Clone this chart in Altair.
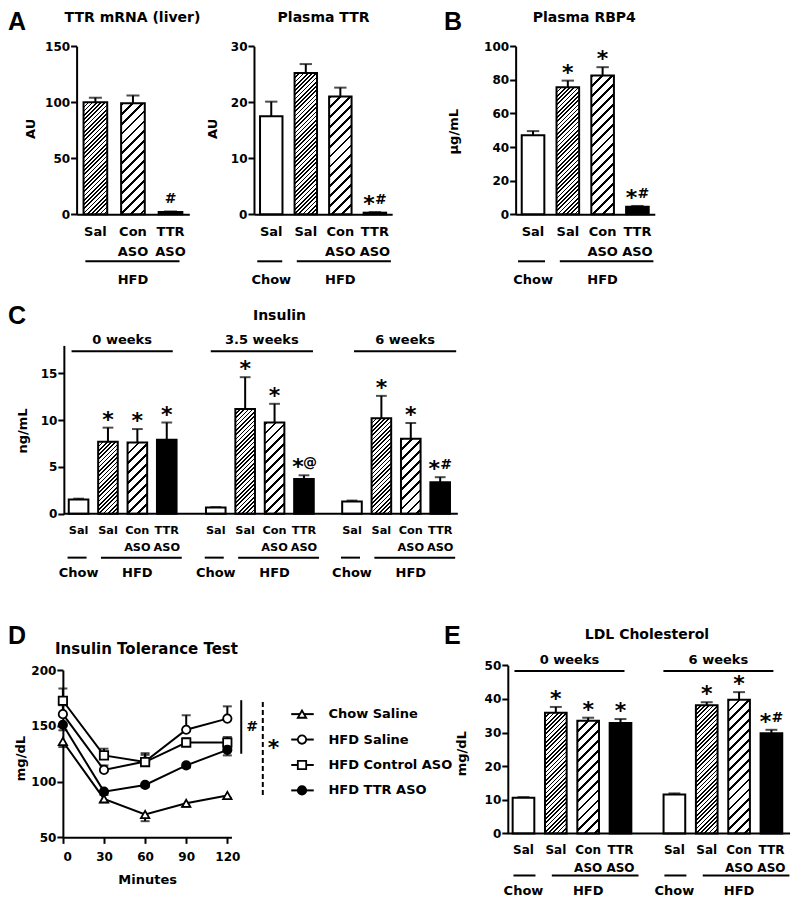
import math
import altair as alt
import pandas as pd

FONT = "DejaVu Sans"
LETTER_FONT = "Liberation Sans"
CW, CH = 783, 892
SX, SY, Y0 = 0.98, 0.978, 0.0


def PX(v):
    return v * SX


def PY(v):
    return (v - Y0) * SY


# ---------------- data ----------------
TREAT = ["Chow|Sal", "HFD|Sal", "HFD|Con ASO", "HFD|TTR ASO"]

A1_keys = ["HFD|Sal", "HFD|Con ASO", "HFD|TTR ASO"]
A1_vals = [100, 99, 2]
A1_sem = [4, 7, 0.6]
A1_note = ["", "", "#"]

A2_vals = [17.5, 25.2, 21.0, 0.3]
A2_sem = [2.6, 1.6, 1.6, 0.1]
A2_note = ["", "", "", "*#"]

B_vals = [47, 75.5, 82.5, 4.5]
B_sem = [2.5, 4.0, 5.0, 0.5]
B_note = ["", "*", "*", "*#"]

C_weeks = ["0 weeks", "3.5 weeks", "6 weeks"]
C_vals = [[1.5, 7.7, 7.6, 7.9], [0.65, 11.2, 9.75, 3.7], [1.3, 10.2, 8.0, 3.35]]
C_sem = [[0.1, 1.5, 1.45, 1.85], [0.05, 3.4, 2.0, 0.4], [0.1, 2.4, 1.7, 0.55]]
C_note = [["", "*", "*", "*"], ["", "*", "*", "*@"], ["", "*", "*", "*#"]]

E_weeks = ["0 weeks", "6 weeks"]
E_vals = [[10.6, 35.9, 33.5, 32.8], [11.6, 38.1, 39.7, 29.8]]
E_sem = [[0.2, 1.7, 0.9, 1.2], [0.3, 0.9, 2.3, 1.0]]
E_note = [["", "*", "*", "*"], ["", "*", "*", "*#"]]

D_series = ["Chow Saline", "HFD Saline", "HFD Control ASO", "HFD TTR ASO"]
D_minutes = [0, 30, 60, 90, 120]
D_chow = [136, 84.5, 70.5, 80.5, 87.5]
D_hfd_sal = [160.5, 110.5, 118, 146.5, 156.5]
D_hfd_con = [172.5, 123.5, 117.5, 135, 135]
D_hfd_ttr = [151, 91, 97, 114.5, 128.5]
D_chow_sem = [5, 3, 6, 3, 2]
D_hfd_sal_sem = [8, 4, 6, 13, 11]
D_hfd_con_sem = [11, 6, 8, 4, 5]
D_hfd_ttr_sem = [5, 3, 2, 2, 5]
D_err_dir = [-1, 1, 1, -1]
D_shapes = ["triangle-up", "circle", "square", "circle"]
D_fills = ["white", "white", "white", "black"]

SIG_sym = ["#", "*"]
SIG_low = [125, 88]
SIG_high = [173, 174]

# ---------------- helpers ----------------
AX = dict(domainColor="black", domainWidth=2, tickColor="black", tickWidth=2,
          labelColor="black", labelFont=FONT, labelFontWeight="bold",
          titleColor="black", titleFont=FONT, titleFontWeight="bold", grid=False)
TXT = dict(font=FONT, fontWeight="bold", color="black")
ONE = pd.DataFrame({"o": [0]})


def y_axis(ax_x, values, title, title_right, title_cy):
    return alt.Axis(orient="left", offset=-PX(ax_x), values=values, tickSize=6,
                    labelPadding=1, labelFontSize=12, title=title, titleFontSize=13,
                    titleX=PX(title_right) - PX(ax_x), titleY=PY(title_cy), titleAngle=270,
                    titleAlign="center", titleBaseline="bottom", **AX)


def x_axis_cat(ax_y, line_h, size=13, domain=True):
    return alt.Axis(orient="bottom", offset=PY(ax_y) - CH, domain=domain, ticks=False,
                    tickSize=0, labelPadding=11, labelFontSize=size, labelLineHeight=line_h,
                    labelAngle=0, labelAlign="center", labelBaseline="top",
                    labelExpr="split(peek(split(datum.label, '|')), ' ')", title=None, **AX)


def hatch(w, h, period, lw):
    s2 = math.sqrt(2.0)
    L = w + h
    c = (1.0 / h + 1.0 / w) / (1.0 / h ** 2 + 1.0 / w ** 2)
    pt, lt = period * s2 / L, lw * s2 / L
    stops, pos = [], 0.0
    while pos < 1.0:
        a, b, e = pos, min(pos + lt, 1.0), min(pos + pt, 1.0)
        stops += [{"offset": round(a, 5), "color": "black"},
                  {"offset": round(b, 5), "color": "black"},
                  {"offset": round(b, 5), "color": "white"},
                  {"offset": round(e, 5), "color": "white"}]
        pos += pt
    return {"gradient": "linear", "x1": 0, "y1": 0,
            "x2": round(c / h, 5), "y2": round(c / w, 5), "stops": stops}


def kind_of(key):
    diet, treat = key.split("|")[-2:]
    if diet == "Chow":
        return "open"
    if treat == "Sal":
        return "dense"
    if treat.startswith("Con"):
        return "sparse"
    return "solid"


def yscale(domain, bottom, top):
    y0, y1 = PY(bottom), PY(top)
    return alt.Scale(domain=domain, range=[y0, y1], nice=False, zero=False), \
        (y0 - y1) / (domain[1] - domain[0])


def bar_group(keys, vals, sems, notes, x_rng, pad, ysc, ppu, yax, xax):
    df = pd.DataFrame({"key": keys, "val": vals, "sem": sems, "note": notes})
    df["top"] = df["val"] + df["sem"]
    df["kind"] = [kind_of(k) for k in keys]
    r0, r1 = PX(x_rng[0]), PX(x_rng[1])
    xs = alt.Scale(type="band", domain=keys, range=[r0, r1],
                   paddingInner=pad, paddingOuter=pad / 2)
    step = (r1 - r0) / len(keys)
    bw = step * (1 - pad)
    X = alt.X("key:N", scale=xs)
    Yv = alt.Y("val:Q", scale=ysc)
    Yt = alt.Y("top:Q", scale=ysc)
    yk = {"axis": yax} if yax is not None else {}
    base = alt.Chart(df)
    layers = [
        base.mark_rule(color="black", strokeWidth=2).encode(
            x=alt.X("key:N", scale=xs, axis=xax),
            y=alt.Y("val:Q", scale=ysc, **yk), y2="top:Q"),
        base.mark_tick(color="black", thickness=2, size=bw * 0.55, orient="horizontal").encode(
            x=X, y=Yt),
        base.transform_filter("datum.kind == 'open'").mark_bar(
            fill="white", stroke="black", strokeWidth=2).encode(x=X, y=Yv),
        base.transform_filter("datum.kind == 'solid'").mark_bar(
            fill="black", stroke="black", strokeWidth=2).encode(x=X, y=Yv),
    ]
    for k, v, kind in zip(keys, vals, df["kind"]):
        if kind in ("dense", "sparse"):
            period, lw = (3.0, 1.2) if kind == "dense" else (7.0, 2.0)
            layers.append(base.transform_filter(alt.datum.key == k).mark_bar(
                fill=hatch(bw, v * ppu, period, lw), stroke="black", strokeWidth=2
            ).encode(x=X, y=Yv))
    layers += [
        base.transform_filter("datum.note == '*'").mark_text(
            text="*", fontSize=22, baseline="alphabetic", dy=-1, **TXT).encode(x=X, y=Yt),
        base.transform_filter("length(datum.note) > 1").mark_text(
            text="*", fontSize=22, baseline="alphabetic", dx=-6, dy=-1, **TXT).encode(x=X, y=Yt),
        base.transform_filter("length(datum.note) > 1").transform_calculate(
            sym="substring(datum.note, 1)").mark_text(
            fontSize=14, baseline="alphabetic", dx=6, dy=-8, **TXT).encode(x=X, y=Yt, text="sym:N"),
        base.transform_filter("datum.note != '*' && length(datum.note) == 1").mark_text(
            fontSize=14, baseline="alphabetic", dy=-8, **TXT).encode(x=X, y=Yt, text="note:N"),
    ]
    return layers, xs, step


def diet_labels(keys, xs, line_y, text_y, offs):
    groups = []
    for k in keys:
        diet = k.split("|")[-2]
        if groups and groups[-1][0] == diet:
            groups[-1][1].append(k)
        else:
            groups.append((diet, [k]))
    layers = []
    for diet, ks in groups:
        gdf = pd.DataFrame({"label": [diet], "first": [ks[0]], "last": [ks[-1]],
                            "mid": [ks[len(ks) // 2]]})
        xo, x2o = offs[diet]
        c = alt.Chart(gdf)
        layers.append(c.mark_rule(color="black", strokeWidth=2, xOffset=xo, x2Offset=x2o).encode(
            x=alt.X("first:N", scale=xs), x2="last:N", y=alt.value(PY(line_y))))
        layers.append(c.mark_text(fontSize=13, baseline="alphabetic", **TXT).encode(
            x=alt.X("mid:N", scale=xs), y=alt.value(PY(text_y)), text="label:N"))
    return layers


def week_label(keys, xs, week, step, line_y, text_y, off):
    wdf = pd.DataFrame({"label": [week], "first": [keys[0]], "last": [keys[-1]],
                        "second": [keys[1]]})
    c = alt.Chart(wdf)
    return [
        c.mark_rule(color="black", strokeWidth=2, xOffset=off[0], x2Offset=off[1]).encode(
            x=alt.X("first:N", scale=xs), x2="last:N", y=alt.value(PY(line_y))),
        c.mark_text(fontSize=13, baseline="alphabetic", dx=step / 2 + (off[0] + off[1]) / 2,
                    **TXT).encode(x=alt.X("second:N", scale=xs),
                                  y=alt.value(PY(text_y)), text="label:N"),
    ]


def label(text, x, y, size=14, align="center", font=FONT):
    return alt.Chart(ONE).mark_text(text=text, font=font, fontSize=size, fontWeight="bold",
                                    align=align, baseline="alphabetic", color="black").encode(
        x=alt.value(PX(x)), y=alt.value(PY(y)))


# ---------------- panel A (two charts) ----------------
ysA1, ppuA1 = yscale([0, 150], 211, 39)
l, xs, st = bar_group(A1_keys, A1_vals, A1_sem, A1_note, [70, 185], 0.37, ysA1, ppuA1,
                      y_axis(70, [0, 50, 100, 150], "AU", 30, 123), x_axis_cat(211, 20))
l += diet_labels(A1_keys, xs, 259, 282, {"HFD": (-10, 9)})
panelA1 = alt.layer(*l)

ysA2, ppuA2 = yscale([0, 30], 211, 39)
l, xs, st = bar_group(TREAT, A2_vals, A2_sem, A2_note, [251, 392], 0.35, ysA2, ppuA2,
                      y_axis(251, [0, 10, 20, 30], "AU", 216, 123), x_axis_cat(211, 20))
l += diet_labels(TREAT, xs, 259, 282, {"Chow": (-14, 11), "HFD": (-9, 16)})
panelA2 = alt.layer(*l)

# ---------------- panel B ----------------
ysB, ppuB = yscale([0, 100], 211, 39)
l, xs, st = bar_group(TREAT, B_vals, B_sem, B_note, [518, 660], 0.35, ysB, ppuB,
                      y_axis(518, [0, 20, 40, 60, 80, 100], "µg/mL", 462, 126),
                      x_axis_cat(211, 20))
l += diet_labels(TREAT, xs, 259, 282, {"Chow": (-15, 12), "HFD": (-8, 16)})
panelB = alt.layer(*l)

# ---------------- panel C ----------------
C_y, ppuC = yscale([0, 18], 517, 345)
C_xr = [[57, 177], [197, 317], [336, 456]]
C_week_off = [(-7, 6), (-5, 9), (2, 16)]
c_groups = []
for gi, w in enumerate(C_weeks):
    keys = [f"{w}|{t}" for t in TREAT]
    yax = y_axis(57, [0, 5, 10, 15], "ng/mL", 22, 432) if gi == 0 else None
    l, xs, st = bar_group(keys, C_vals[gi], C_sem[gi], C_note[gi], C_xr[gi], 1 / 3, C_y,
                          ppuC, yax, x_axis_cat(517, 17, size=11.3, domain=False))
    l += diet_labels(keys, xs, 562, 582, {"Chow": (-11, 8), "HFD": (-7, 15)})
    l += week_label(keys, xs, w, st, 351, 344, C_week_off[gi])
    c_groups.append(alt.layer(*l))
c_base = alt.Chart(ONE).mark_rule(color="black", strokeWidth=2).encode(
    x=alt.value(PX(57)), x2=alt.value(PX(459)), y=alt.Y("o:Q", scale=C_y))
panelC = alt.layer(*c_groups, c_base).resolve_scale(x="independent")

# ---------------- panel E ----------------
E_y, ppuE = yscale([0, 50], 844, 672)
E_xr = [[509.5, 641.5], [663.5, 795.5]]
E_week_off = [(-9, 4), (-11, 2)]
e_groups = []
for gi, w in enumerate(E_weeks):
    keys = [f"{w}|{t}" for t in TREAT]
    yax = y_axis(510, [0, 10, 20, 30, 40, 50], "mg/dL", 470, 762) if gi == 0 else None
    l, xs, st = bar_group(keys, E_vals[gi], E_sem[gi], E_note[gi], E_xr[gi], 0.33, E_y,
                          ppuE, yax, x_axis_cat(844, 18, size=12, domain=False))
    l += diet_labels(keys, xs, 887, 907, {"Chow": (-10, 12), "HFD": (-4, 18)})
    l += week_label(keys, xs, w, st, 678, 671, E_week_off[gi])
    e_groups.append(alt.layer(*l))
e_base = alt.Chart(ONE).mark_rule(color="black", strokeWidth=2).encode(
    x=alt.value(PX(510)), x2=alt.value(PX(798)), y=alt.Y("o:Q", scale=E_y))
panelE = alt.layer(*e_groups, e_base).resolve_scale(x="independent")

# ---------------- panel D ----------------
d_vals = [D_chow, D_hfd_sal, D_hfd_con, D_hfd_ttr]
d_sems = [D_chow_sem, D_hfd_sal_sem, D_hfd_con_sem, D_hfd_ttr_sem]
rows = []
for s, vs, es, dr in zip(D_series, d_vals, d_sems, D_err_dir):
    for m, v, e in zip(D_minutes, vs, es):
        rows.append({"series": s, "minute": m, "val": v, "end": v + dr * e})
ddf = pd.DataFrame(rows)
Dx = alt.Scale(domain=[0, 123], range=[PX(56), PX(228)], nice=False, zero=False)
Dy, _ = yscale([50, 200], 848, 677)
shape_sc = alt.Scale(domain=D_series, range=D_shapes)
fill_sc = alt.Scale(domain=D_series, range=D_fills)
xaxD = alt.Axis(orient="bottom", offset=PY(848) - CH, values=D_minutes, tickSize=6,
                labelPadding=8, labelFontSize=12, labelAngle=0, title="Minutes",
                titleFontSize=13, titleY=PY(895) - PY(848), titleBaseline="alphabetic", **AX)
yaxD = y_axis(56, [50, 100, 150, 200], "mg/dL", 20, 767)
dX = alt.X("minute:Q", scale=Dx)
dY = alt.Y("val:Q", scale=Dy)
d = alt.Chart(ddf)
d_layers = [
    d.mark_rule(color="black", strokeWidth=2).encode(
        x=alt.X("minute:Q", scale=Dx, axis=xaxD), y=alt.Y("val:Q", scale=Dy, axis=yaxD),
        y2="end:Q"),
    d.mark_tick(color="black", thickness=2, size=9, orient="horizontal").encode(
        x=dX, y=alt.Y("end:Q", scale=Dy)),
    d.mark_line(color="black", strokeWidth=2).encode(x=dX, y=dY, detail="series:N"),
    d.mark_point(filled=True, stroke="black", strokeWidth=1.8, size=70, opacity=1).encode(
        x=dX, y=dY, shape=alt.Shape("series:N", scale=shape_sc, legend=None),
        fill=alt.Fill("series:N", scale=fill_sc, legend=None)),
]
sdf = pd.DataFrame({"sym": SIG_sym, "lo": SIG_low, "hi": SIG_high})
sdf["mid"] = (sdf["lo"] + sdf["hi"]) / 2
s = alt.Chart(sdf)
d_layers += [
    s.transform_filter("datum.sym == '#'").mark_rule(color="black", strokeWidth=2).encode(
        x=alt.value(PX(238)), y=alt.Y("lo:Q", scale=Dy), y2="hi:Q"),
    s.transform_filter("datum.sym == '*'").mark_rule(
        color="black", strokeWidth=2, strokeDash=[5, 3]).encode(
        x=alt.value(PX(260)), y=alt.Y("lo:Q", scale=Dy), y2="hi:Q"),
    s.transform_filter("datum.sym == '#'").mark_text(
        fontSize=14, baseline="middle", **TXT).encode(
        x=alt.value(PX(249)), y=alt.Y("mid:Q", scale=Dy), text="sym:N"),
    s.transform_filter("datum.sym == '*'").mark_text(
        fontSize=22, baseline="alphabetic", dy=8, **TXT).encode(
        x=alt.value(PX(271)), y=alt.Y("mid:Q", scale=Dy), text="sym:N"),
]
panelD = alt.layer(*d_layers)

# legend for D, built from the series list
leg = alt.Chart(pd.DataFrame({"series": D_series}))
LY = alt.Y("series:N", scale=alt.Scale(type="point", domain=D_series,
                                       range=[PY(722), PY(800)], padding=0), axis=None)
legD = alt.layer(
    leg.mark_rule(color="black", strokeWidth=2).encode(
        y=LY, x=alt.value(PX(289)), x2=alt.value(PX(312))),
    leg.mark_point(filled=True, stroke="black", strokeWidth=1.8, size=70, opacity=1).encode(
        y=LY, x=alt.value(PX(300)),
        shape=alt.Shape("series:N", scale=shape_sc, legend=None),
        fill=alt.Fill("series:N", scale=fill_sc, legend=None)),
    leg.mark_text(fontSize=13, align="left", baseline="middle", **TXT).encode(
        y=LY, x=alt.value(PX(327)), text="series:N"),
)

# ---------------- titles and panel letters ----------------
titles = [
    label("TTR mRNA (liver)", 127, 14),
    label("Plasma TTR", 322, 14),
    label("Plasma RBP4", 588, 14),
    label("Insulin", 277, 319),
    label("Insulin  Tolerance Test", 48, 661, size=15, align="left"),
    label("LDL Cholesterol", 652, 645),
    label("A", 0, 23, size=25, align="left", font=LETTER_FONT),
    label("B", 445, 22, size=25, align="left", font=LETTER_FONT),
    label("C", 0, 323, size=25, align="left", font=LETTER_FONT),
    label("D", 0, 650, size=25, align="left", font=LETTER_FONT),
    label("E", 445, 650, size=25, align="left", font=LETTER_FONT),
]

chart = alt.layer(panelA1, panelA2, panelB, panelC, panelD, legD, panelE, *titles).resolve_scale(
    x="independent", y="independent"
).properties(
    width=CW, height=CH, autosize=alt.AutoSizeParams(type="none"), padding=0
).configure_view(stroke=None)

chart.save("out.html", embed_options={"renderer": "svg", "actions": False})
